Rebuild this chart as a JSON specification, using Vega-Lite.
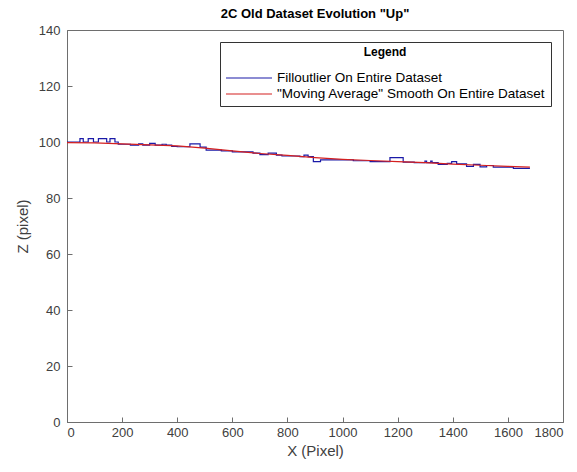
{
  "$schema": "https://vega.github.io/schema/vega-lite/v6.json",
  "width": 496,
  "height": 392,
  "autosize": {"type": "none"},
  "padding": {"left": 67, "top": 30, "right": 14, "bottom": 50},
  "background": "white",
  "title": {"text": "2C Old Dataset Evolution \"Up\"", "fontSize": 13, "font": "Liberation Sans", "fontWeight": "bold", "color": "black", "offset": 3, "anchor": "middle"},
  "config": {
    "font": "Liberation Sans",
    "view": {"stroke": "#6e6e6e", "strokeWidth": 1},
    "axis": {"grid": false, "domainColor": "#6e6e6e", "tickColor": "#6e6e6e", "tickSize": -5, "labelColor": "#404040", "labelFontSize": 13, "titleFontSize": 15, "titleColor": "#404040", "titleFontWeight": "normal", "format": "d"},
    "axisX": {"labelPadding": 9, "titlePadding": 4},
    "axisY": {"labelPadding": 12, "titlePadding": 8}
  },
  "data": {"values": [
    {"series": "blue", "x": 0, "z": 100.0},
    {"series": "blue", "x": 47, "z": 101.2},
    {"series": "blue", "x": 59, "z": 100.0},
    {"series": "blue", "x": 77, "z": 101.2},
    {"series": "blue", "x": 96, "z": 100.0},
    {"series": "blue", "x": 114, "z": 101.2},
    {"series": "blue", "x": 144, "z": 100.0},
    {"series": "blue", "x": 156, "z": 101.2},
    {"series": "blue", "x": 174, "z": 100.0},
    {"series": "blue", "x": 186, "z": 99.2},
    {"series": "blue", "x": 230, "z": 98.9},
    {"series": "blue", "x": 260, "z": 99.3},
    {"series": "blue", "x": 275, "z": 98.9},
    {"series": "blue", "x": 300, "z": 99.5},
    {"series": "blue", "x": 320, "z": 98.9},
    {"series": "blue", "x": 345, "z": 99.2},
    {"series": "blue", "x": 360, "z": 98.9},
    {"series": "blue", "x": 380, "z": 98.4},
    {"series": "blue", "x": 400, "z": 98.3},
    {"series": "blue", "x": 446, "z": 99.3},
    {"series": "blue", "x": 483, "z": 98.2},
    {"series": "blue", "x": 505, "z": 97.1},
    {"series": "blue", "x": 560, "z": 96.8},
    {"series": "blue", "x": 600, "z": 96.5},
    {"series": "blue", "x": 675, "z": 96.0},
    {"series": "blue", "x": 700, "z": 95.5},
    {"series": "blue", "x": 730, "z": 96.0},
    {"series": "blue", "x": 760, "z": 95.3},
    {"series": "blue", "x": 780, "z": 95.0},
    {"series": "blue", "x": 845, "z": 94.8},
    {"series": "blue", "x": 860, "z": 95.3},
    {"series": "blue", "x": 875, "z": 94.8},
    {"series": "blue", "x": 894, "z": 93.0},
    {"series": "blue", "x": 920, "z": 93.6},
    {"series": "blue", "x": 1039, "z": 93.3},
    {"series": "blue", "x": 1100, "z": 93.0},
    {"series": "blue", "x": 1172, "z": 94.4},
    {"series": "blue", "x": 1220, "z": 92.8},
    {"series": "blue", "x": 1260, "z": 92.6},
    {"series": "blue", "x": 1299, "z": 93.2},
    {"series": "blue", "x": 1305, "z": 92.6},
    {"series": "blue", "x": 1320, "z": 93.2},
    {"series": "blue", "x": 1325, "z": 92.6},
    {"series": "blue", "x": 1347, "z": 92.0},
    {"series": "blue", "x": 1380, "z": 92.4},
    {"series": "blue", "x": 1396, "z": 93.0},
    {"series": "blue", "x": 1414, "z": 92.2},
    {"series": "blue", "x": 1450, "z": 91.3},
    {"series": "blue", "x": 1475, "z": 92.0},
    {"series": "blue", "x": 1499, "z": 91.1},
    {"series": "blue", "x": 1523, "z": 91.6},
    {"series": "blue", "x": 1547, "z": 91.0},
    {"series": "blue", "x": 1620, "z": 90.6},
    {"series": "blue", "x": 1680, "z": 90.6},
    {"series": "red", "x": 0, "z": 99.8},
    {"series": "red", "x": 100, "z": 99.7},
    {"series": "red", "x": 200, "z": 99.3},
    {"series": "red", "x": 300, "z": 99.0},
    {"series": "red", "x": 400, "z": 98.6},
    {"series": "red", "x": 500, "z": 97.8},
    {"series": "red", "x": 600, "z": 96.8},
    {"series": "red", "x": 700, "z": 95.9},
    {"series": "red", "x": 800, "z": 95.2},
    {"series": "red", "x": 900, "z": 94.4},
    {"series": "red", "x": 1000, "z": 93.8},
    {"series": "red", "x": 1100, "z": 93.4},
    {"series": "red", "x": 1200, "z": 93.0},
    {"series": "red", "x": 1300, "z": 92.6},
    {"series": "red", "x": 1400, "z": 92.1},
    {"series": "red", "x": 1500, "z": 91.7},
    {"series": "red", "x": 1600, "z": 91.3},
    {"series": "red", "x": 1680, "z": 91.0}
  ]},
  "encoding": {
    "x": {"field": "x", "type": "quantitative", "scale": {"domain": [0, 1800], "nice": false}, "axis": {"title": "X (Pixel)", "values": [0, 200, 400, 600, 800, 1000, 1200, 1400, 1600, 1800]}},
    "y": {"field": "z", "type": "quantitative", "scale": {"domain": [0, 140], "nice": false}, "axis": {"title": "Z (pixel)", "values": [0, 20, 40, 60, 80, 100, 120, 140]}},
    "color": {"field": "series", "type": "nominal",
      "scale": {"domain": ["blue", "red"], "range": ["#1a1aa8", "#d42020"]},
      "legend": {"orient": "none", "legendX": 153, "legendY": 12, "title": "Legend", "strokeColor": "#333333", "fillColor": "white", "padding": 5, "titleFontSize": 12, "titleFontWeight": "bold", "titleColor": "black", "titleAnchor": "middle", "titlePadding": 12, "labelFontSize": 13.5, "labelColor": "black", "symbolType": "stroke", "symbolSize": 2116, "symbolStrokeWidth": 1.2, "labelOffset": 4, "rowPadding": 2, "clipHeight": 14, "labelLimit": 400,
        "labelExpr": "datum.label == 'blue' ? 'Filloutlier On Entire Dataset' : '\"Moving Average\" Smooth On Entire Dataset'"}
    }
  },
  "layer": [
    {"transform": [{"filter": "datum.series == 'blue'"}], "mark": {"type": "line", "interpolate": "step-after", "strokeWidth": 1.2}},
    {"transform": [{"filter": "datum.series == 'red'"}], "mark": {"type": "line", "strokeWidth": 1.2}}
  ]
}
